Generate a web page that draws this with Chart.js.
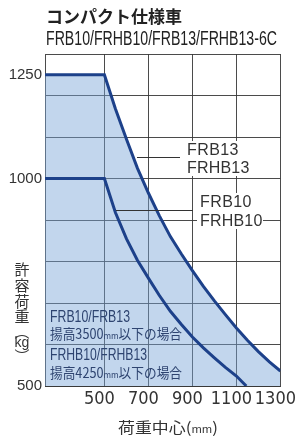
<!DOCTYPE html>
<html><head><meta charset="utf-8">
<script src="https://cdn.jsdelivr.net/npm/chart.js@4/dist/chart.umd.min.js"></script>
<style>html,body{margin:0;padding:0;background:#fff;}canvas{display:block;}</style>
</head><body>
<canvas id="c" width="304" height="439" style="width:304px;height:439px"></canvas>
<script>
// ---- data ----
const loadCenter13 = [230, 500, 550, 600, 650, 700, 750, 800, 850, 900, 950, 1000, 1050, 1100, 1150, 1200, 1250, 1300];
const capacity13   = [1250, 1250, 1168, 1095, 1025, 965, 910, 860, 818, 778, 740, 705, 672, 640, 610, 583, 558, 536];
const loadCenter10 = [230, 500, 550, 600, 650, 700, 750, 800, 850, 900, 950, 1000, 1050, 1100, 1145];
const capacity10   = [1000, 1000, 918, 855, 803, 760, 718, 680, 648, 618, 592, 568, 545, 524, 500];
const xTickValues = [500, 700, 900, 1100, 1300];
const yGridValues = [500, 600, 700, 800, 900, 1000, 1100, 1200, 1250, 1300];
const yLabelValues = [500, 1000, 1250];
const titleText = 'コンパクト仕様車';
const subtitleText = 'FRB10/FRHB10/FRB13/FRHB13-6C';
const yTitleChars = ['許', '容', '荷', '重', '︵', 'kg', '︶'];
const seriesLabels13 = ['FRB13', 'FRHB13'];
const seriesLabels10 = ['FRB10', 'FRHB10'];

const LINE = '#1d418a';
const FILL = 'rgba(120,165,215,0.45)';
const GRID = 'rgba(55,55,55,0.9)';
const CJK = "'Noto Sans CJK JP', sans-serif";
const LAT = "'Liberation Sans', 'DejaVu Sans', sans-serif";
const NARROW = "'Liberation Sans Narrow', 'DejaVu Sans Condensed', 'Liberation Sans', sans-serif";

function fitText(ctx, text, x, y, width) {
  const w = ctx.measureText(text).width;
  ctx.save(); ctx.translate(x, y); ctx.scale(width / w, 1); ctx.fillText(text, 0, 0); ctx.restore();
}
function richText(ctx, segs, x, y, width) {
  let total = 0;
  segs.forEach(s => { ctx.font = s.f; s.w = ctx.measureText(s.t).width; total += s.w; });
  const k = width ? width / total : 1;
  ctx.save(); ctx.translate(x, y); ctx.scale(k, 1);
  let cx = 0;
  segs.forEach(s => { ctx.font = s.f; ctx.fillText(s.t, cx, 0); cx += s.w; });
  ctx.restore();
  return total * k;
}
function spaced(ctx, text, x, y, sp) {
  let cx = x;
  for (const ch of text) { ctx.fillText(ch, cx, y); cx += ctx.measureText(ch).width + sp; }
}

const decor = {
  id: 'decor',
  afterDatasetsDraw(chart) {
    const ctx = chart.ctx;
    ctx.save();
    // white label boxes
    ctx.fillStyle = '#fff';
    ctx.fillRect(184, 141, 68, 35);
    ctx.fillRect(197, 193, 66, 36);
    // leader lines
    ctx.strokeStyle = '#333'; ctx.lineWidth = 1;
    ctx.beginPath();
    ctx.moveTo(137, 157.5); ctx.lineTo(180, 157.5);
    ctx.moveTo(116, 210.5); ctx.lineTo(193, 210.5);
    ctx.stroke();
    // series labels
    ctx.fillStyle = '#333';
    ctx.font = '16px ' + LAT;
    ctx.textBaseline = 'alphabetic';
    spaced(ctx, seriesLabels13[0], 187, 155, 0.4);
    spaced(ctx, seriesLabels13[1], 187, 173, 0.2);
    spaced(ctx, seriesLabels10[0], 200, 207, 0.4);
    spaced(ctx, seriesLabels10[1], 200, 226, 0.2);
    // notes in fill
    ctx.fillStyle = '#2e4470';
    ctx.font = '16px ' + LAT;
    fitText(ctx, 'FRB10/FRB13', 50, 322, 80);
    fitText(ctx, 'FRHB10/FRHB13', 50, 360, 97);
    const f14 = '14px ' + CJK, f9 = '9px ' + CJK;
    richText(ctx, [{t:'揚高3500', f:f14}, {t:'mm', f:f9}, {t:'以下の場合', f:f14}], 50, 338.5, 132);
    richText(ctx, [{t:'揚高4250', f:f14}, {t:'mm', f:f9}, {t:'以下の場合', f:f14}], 50, 377.5, 132);
    ctx.restore();
  },
  afterDraw(chart) {
    const ctx = chart.ctx;
    ctx.save();
    ctx.fillStyle = '#222';
    ctx.textBaseline = 'alphabetic';
    ctx.font = 'bold 17px ' + CJK;
    ctx.fillText(titleText, 46, 23);
    ctx.font = '20px ' + LAT;
    fitText(ctx, subtitleText, 46, 45, 231);
    // y title (vertical)
    ctx.fillStyle = '#333';
    ctx.textAlign = 'center'; ctx.textBaseline = 'middle';
    const ys = [269.5, 285.5, 301.5, 316.5, 331, 343.5, 356];
    yTitleChars.forEach((ch, i) => {
      ctx.font = (ch === 'kg' ? '14px ' + LAT : '15px ' + CJK);
      ctx.fillText(ch, 22, ys[i]);
    });
    // x title
    ctx.textAlign = 'left'; ctx.textBaseline = 'alphabetic';
    const f15 = '15px ' + CJK, f10 = '10px ' + CJK;
    richText(ctx, [{t:'荷重中心(', f:f15}, {t:'mm', f:f10}, {t:')', f:f15}], 118, 433, 100);
    ctx.restore();
  }
};

const toPts = (xs, ys) => xs.map((x, i) => ({x, y: ys[i]}));

new Chart(document.getElementById('c'), {
  type: 'line',
  data: {
    datasets: [
      { label: 'FRB13/FRHB13', data: toPts(loadCenter13, capacity13), borderColor: LINE, borderWidth: 3,
        backgroundColor: FILL, fill: 'start', pointRadius: 0, tension: 0, order: 2 },
      { label: 'FRB10/FRHB10', data: toPts(loadCenter10, capacity10), borderColor: LINE, borderWidth: 3,
        fill: false, pointRadius: 0, tension: 0, order: 1 }
    ]
  },
  options: {
    responsive: false, animation: false, devicePixelRatio: 1,
    layout: { padding: { top: 54, right: 17, left: 0, bottom: 0 } },
    plugins: { legend: { display: false }, tooltip: { enabled: false }, title: { display: false } },
    scales: {
      x: {
        type: 'linear', min: 230, max: 1300,
        afterBuildTicks: s => { s.ticks = xTickValues.map(v => ({ value: v })); },
        afterFit: s => { s.height = 53; },
        grid: { color: GRID, lineWidth: 1, drawTicks: false },
        border: { color: GRID, width: 1 },
        ticks: { autoSkip: false, maxRotation: 0, padding: 3, labelOffset: -5, color: '#333',
                 font: { family: NARROW, size: 18 }, callback: v => String(v) }
      },
      y: {
        type: 'linear', min: 500, max: 1300,
        afterBuildTicks: s => { s.ticks = yGridValues.map(v => ({ value: v })); },
        afterFit: s => { s.width = 45; },
        grid: { color: c => (c.tick && c.tick.value === 1250) ? 'rgba(0,0,0,0)' : GRID, lineWidth: 1, drawTicks: false },
        border: { color: GRID, width: 1 },
        ticks: { autoSkip: false, padding: 3, color: '#333', font: { family: LAT, size: 15 },
                 callback: v => yLabelValues.includes(v) ? String(v) : '' }
      }
    }
  },
  plugins: [decor]
});
</script>
</body></html>
